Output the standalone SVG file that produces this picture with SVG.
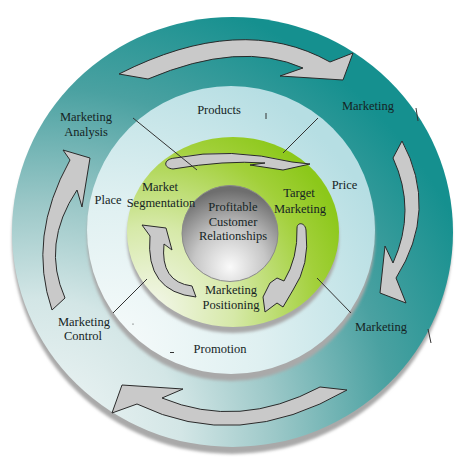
<svg xmlns="http://www.w3.org/2000/svg" width="466" height="463" viewBox="0 0 466 463">
<defs>
<radialGradient id="gOuter" gradientUnits="userSpaceOnUse" cx="40" cy="440" r="470">
<stop offset="0" stop-color="#f2f7f7"/>
<stop offset="0.3" stop-color="#d3e6e6"/>
<stop offset="0.5" stop-color="#9cc8c8"/>
<stop offset="0.75" stop-color="#4aa1a1"/>
<stop offset="1" stop-color="#15908f"/>
</radialGradient>
<radialGradient id="gLight" gradientUnits="userSpaceOnUse" cx="110" cy="350" r="300">
<stop offset="0" stop-color="#f7fbfb"/>
<stop offset="0.5" stop-color="#dff0f1"/>
<stop offset="1" stop-color="#b6dee3"/>
</radialGradient>
<radialGradient id="gGreen" gradientUnits="userSpaceOnUse" cx="150" cy="310" r="210">
<stop offset="0" stop-color="#f4f7ec"/>
<stop offset="0.4" stop-color="#d6e9a8"/>
<stop offset="0.8" stop-color="#a2d03a"/>
<stop offset="1" stop-color="#8cc81a"/>
</radialGradient>
<radialGradient id="gSphere" cx="0.5" cy="0.8" r="0.75" fx="0.5" fy="0.85">
<stop offset="0" stop-color="#fafafa"/>
<stop offset="0.5" stop-color="#c6c6c6"/>
<stop offset="1" stop-color="#6e6e6e"/>
</radialGradient>
<filter id="blur" x="-10%" y="-10%" width="120%" height="120%"><feGaussianBlur stdDeviation="1.5"/></filter>
<style>
.arr{fill:#c9c9c9;stroke:#2a2a2a;stroke-width:1;stroke-linejoin:miter}
.spoke{stroke:#333;stroke-width:1;fill:none}
.lbl{font-family:"Liberation Serif","Times New Roman",serif;font-size:12.5px;fill:#152424;text-anchor:middle}
.shadow{fill:#a9a9a9;filter:url(#blur)}
</style>
</defs>

<g id="rings">
<ellipse class="shadow" cx="232" cy="239" rx="220" ry="215"/>
<ellipse cx="232.5" cy="232" rx="220.5" ry="215" fill="url(#gOuter)"/>
<circle class="shadow" cx="231" cy="237" r="144"/>
<circle cx="231" cy="230" r="144" fill="url(#gLight)"/>
<ellipse class="shadow" cx="233" cy="238" rx="106" ry="95"/>
<ellipse cx="233" cy="232" rx="106" ry="95" fill="url(#gGreen)"/>
<circle id="sphere" cx="230" cy="233.5" r="48" fill="url(#gSphere)" stroke="#8a8a8a" stroke-width="1"/>
</g>

<g id="connectors">
<path class="arr" d="M119,74 Q241,12 330,62 L353,53 L343,80 L280,76 L303,68 Q240,40 148,79 Z"/>
<path class="arr" d="M402,141 Q439,210 396,278 L406,303 L380,293 L385,246 L393,263 Q417,210 393,158 Z"/>
<path class="arr" d="M347,390 Q238,453 137,404 L112,413 L122,385 L183,389 L162,398 Q239,430 320,387 Z"/>
<path class="arr" d="M52,310 Q27,237 70,160 L63,150 L90,158 L82,207 L77,190 Q41,244 65,298 Z"/>
<path class="arr" d="M173,169 C163,168 163,159 175,158 Q230,147 292,162 L310,164 L283,170 L250,165 L265,163 Q225,160 173,169 Z"/>
<path class="arr" d="M297,228 C297,222 305,222 306,230 Q310,265 293,290 L283,307 L277,303 L265,312 L263,297 L270,283 L277,278 L284,281 Q298,258 297,228 Z"/>
<path class="arr" d="M196,297 Q145,292 150,236 L142,225 L166,228 L172,250 L164,244 Q160,282 192,286 Z"/>
<line class="spoke" x1="133" y1="118" x2="197" y2="170"/>
<line class="spoke" x1="318" y1="118" x2="283" y2="153"/>
<line class="spoke" x1="147" y1="279" x2="113" y2="313"/>
<line class="spoke" x1="317" y1="278" x2="351" y2="313"/>
<line class="spoke" x1="266" y1="113" x2="266" y2="119"/>
<line class="spoke" x1="416" y1="108" x2="418" y2="121"/>
<line class="spoke" x1="428" y1="329" x2="431" y2="343"/>
<line class="spoke" x1="170" y1="352.5" x2="174" y2="352.5"/>
<circle cx="133" cy="324" r="0.6" fill="#333"/>
</g>

<g id="n-marketing-analysis"><text class="lbl" x="86" y="121">Marketing</text><text class="lbl" x="86" y="136">Analysis</text></g>
<g id="n-products"><text class="lbl" x="219" y="114">Products</text></g>
<g id="n-marketing-tr"><text class="lbl" x="368" y="110">Marketing</text></g>
<g id="n-price"><text class="lbl" x="344.5" y="189">Price</text></g>
<g id="n-place"><text class="lbl" x="108" y="204">Place</text></g>
<g id="n-segmentation"><text class="lbl" x="160" y="191">Market</text><text class="lbl" x="161" y="207">Segmentation</text></g>
<g id="n-target"><text class="lbl" x="299" y="197">Target</text><text class="lbl" x="300" y="213">Marketing</text></g>
<g id="n-core"><text class="lbl" x="233" y="211">Profitable</text><text class="lbl" x="233" y="226">Customer</text><text class="lbl" x="233" y="240">Relationships</text></g>
<g id="n-positioning"><text class="lbl" x="231" y="294">Marketing</text><text class="lbl" x="231" y="309">Positioning</text></g>
<g id="n-control"><text class="lbl" x="84" y="326">Marketing</text><text class="lbl" x="83" y="340">Control</text></g>
<g id="n-promotion"><text class="lbl" x="220" y="353">Promotion</text></g>
<g id="n-marketing-br"><text class="lbl" x="381" y="331">Marketing</text></g>
</svg>
